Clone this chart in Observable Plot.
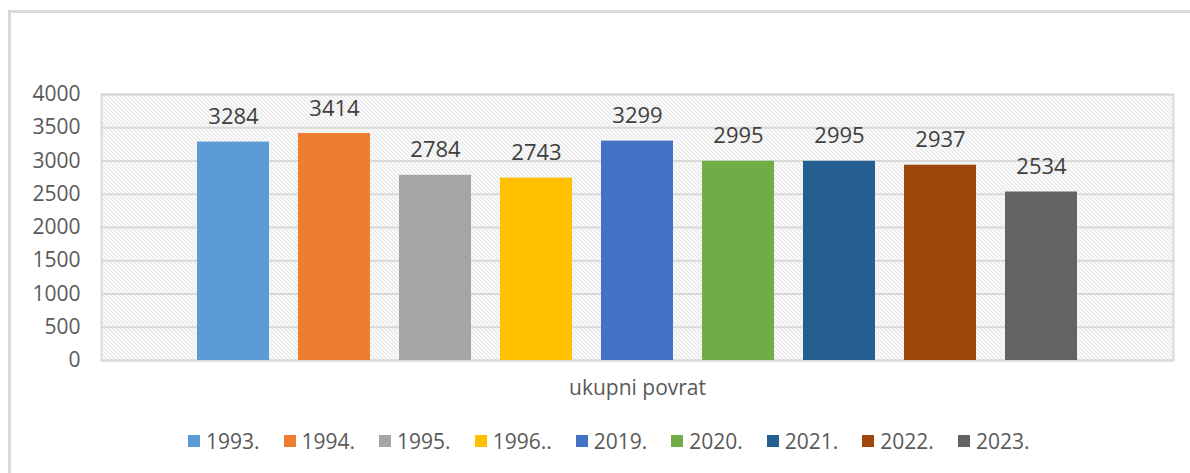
<!DOCTYPE html>
<html><head><meta charset="utf-8">
<script src="https://cdn.jsdelivr.net/npm/d3@7"></script>
<script src="https://cdn.jsdelivr.net/npm/@observablehq/plot@0.6"></script>
<style>
body{margin:0;overflow:hidden;background:#fff;font-family:"Open Sans",sans-serif;}
#wrap{position:relative;width:1190px;height:473px;overflow:hidden;}
#border{position:absolute;left:8px;top:10px;width:1200px;height:500px;border:3px solid #d9d9d9;box-sizing:border-box;pointer-events:none;}
#chart{position:absolute;left:0;top:0;}
#legend{position:absolute;left:188px;top:427px;display:flex;align-items:center;font-size:21px;color:#595959;white-space:nowrap;}
.item{display:flex;align-items:center;margin-right:24px;}
.sw{width:12px;height:12px;margin-right:6px;}
</style></head>
<body>
<svg width="0" height="0" style="position:absolute">
  <defs>
    <pattern id="hatch" patternUnits="userSpaceOnUse" width="4" height="4">
      <rect width="4" height="4" fill="#ffffff"/>
      <path d="M-1,-1 L5,5 M-1,3 L1,5 M3,-1 L5,1" stroke="#d0d0d0" stroke-width="1"/>
    </pattern>
  </defs>
</svg>
<div id="wrap">
  <div id="chart"></div>
  <div id="legend"></div>
  <div id="border"></div>
</div>
<script>
const years = ["1993.", "1994.", "1995.", "1996..", "2019.", "2020.", "2021.", "2022.", "2023."];
const values = [3284, 3414, 2784, 2743, 3299, 2995, 2995, 2937, 2534];
const colors = ["#5B9BD5", "#ED7D31", "#A5A5A5", "#FFC000", "#4472C4", "#70AD47", "#255E91", "#9E480E", "#636363"];
const yTicks = [0, 500, 1000, 1500, 2000, 2500, 3000, 3500, 4000];
const category = "ukupni povrat";

const data = years.map((y, i) => ({year: y, value: values[i]}));

const chart = Plot.plot({
  width: 1190,
  height: 473,
  marginLeft: 101,
  marginRight: 17,
  marginTop: 94,
  marginBottom: 113,
  style: {fontFamily: "Open Sans, sans-serif", fontSize: "21px", color: "#595959", background: "transparent"},
  x: {domain: years, paddingInner: 0.287, paddingOuter: 0.95, axis: null},
  y: {domain: [0, 4000], axis: null},
  color: {domain: years, range: colors},
  marks: [
    Plot.frame({fill: "url(#hatch)", stroke: null}),
    Plot.gridY(yTicks, {stroke: "#d9d9d9", strokeOpacity: 1, strokeWidth: 2}),
    Plot.frame({stroke: "#d9d9d9", strokeWidth: 2}),
    Plot.barY(data, {x: "year", y: "value", fill: "year"}),
    Plot.text(data, {x: "year", y: "value", text: d => String(d.value), dy: -25, fontSize: 22, fill: "#404040"}),
    Plot.axisY(yTicks, {tickSize: 0, tickPadding: 21, label: null, fontSize: 21, fill: "#595959", tickFormat: d => String(d)}),
    Plot.text([category], {frameAnchor: "bottom", dy: 34, fontSize: 21, fill: "#595959"})
  ]
});
document.getElementById("chart").appendChild(chart);

const legend = document.getElementById("legend");
years.forEach((y, i) => {
  const it = document.createElement("div");
  it.className = "item";
  const sw = document.createElement("div");
  sw.className = "sw";
  sw.style.background = colors[i];
  const t = document.createElement("span");
  t.textContent = y;
  it.appendChild(sw); it.appendChild(t);
  legend.appendChild(it);
});
</script>
</body></html>
